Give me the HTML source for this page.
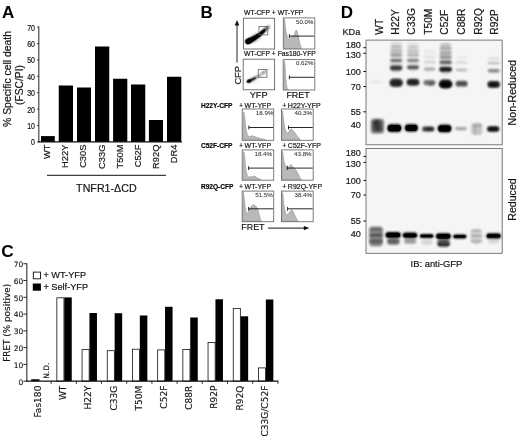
<!DOCTYPE html>
<html lang="en"><head><meta charset="utf-8"><title>Figure</title>
<style>
html,body{margin:0;padding:0;background:#fff;}
body{width:520px;height:440px;overflow:hidden;}
svg{display:block;}
.ls{font-family:"Liberation Sans",sans-serif;stroke:#222;stroke-width:0.2px;}
.dc{font-family:"DejaVu Sans",sans-serif;stroke:#222;stroke-width:0.15px;}
</style></head><body>
<svg width="520" height="440" viewBox="0 0 520 440">
<defs>
<filter id="b05" x="-50%" y="-50%" width="200%" height="200%"><feGaussianBlur stdDeviation="0.5"/></filter>
<filter id="b08" x="-50%" y="-50%" width="200%" height="200%"><feGaussianBlur stdDeviation="0.8"/></filter>
<filter id="b12" x="-50%" y="-50%" width="200%" height="200%"><feGaussianBlur stdDeviation="1.2"/></filter>
<filter id="b20" x="-50%" y="-50%" width="200%" height="200%"><feGaussianBlur stdDeviation="2"/></filter>
</defs>
<rect x="0" y="0" width="520" height="440" fill="#fff"/>
<g id="panelA">
<text class="ls" x="2" y="18.2" font-size="17" text-anchor="start" font-weight="bold" fill="#000" style="stroke:none">A</text>
<rect x="41.00" y="136.10" width="13.80" height="5.80" fill="#000"/>
<rect x="58.75" y="85.50" width="14.25" height="56.40" fill="#000"/>
<rect x="77.00" y="87.50" width="14.00" height="54.40" fill="#000"/>
<rect x="95.00" y="46.50" width="14.25" height="95.40" fill="#000"/>
<rect x="113.10" y="78.75" width="14.20" height="63.15" fill="#000"/>
<rect x="131.00" y="84.50" width="14.25" height="57.40" fill="#000"/>
<rect x="148.90" y="120.00" width="14.10" height="21.90" fill="#000"/>
<rect x="167.00" y="76.75" width="14.30" height="65.15" fill="#000"/>
<line x1="38.8" y1="26.6" x2="38.8" y2="142.4" stroke="#4a4a4a" stroke-width="1.2"/>
<line x1="38.199999999999996" y1="141.9" x2="182" y2="141.9" stroke="#111" stroke-width="1.1"/>
<line x1="37.199999999999996" y1="141.9" x2="38.8" y2="141.9" stroke="#111" stroke-width="0.9"/>
<text class="ls" x="35.0" y="145.4" font-size="8.2" text-anchor="end" fill="#111" textLength="3.9" lengthAdjust="spacingAndGlyphs">0</text>
<line x1="37.199999999999996" y1="125.5" x2="38.8" y2="125.5" stroke="#111" stroke-width="0.9"/>
<text class="ls" x="35.0" y="129.0" font-size="8.2" text-anchor="end" fill="#111" textLength="7.8" lengthAdjust="spacingAndGlyphs">10</text>
<line x1="37.199999999999996" y1="109.10000000000001" x2="38.8" y2="109.10000000000001" stroke="#111" stroke-width="0.9"/>
<text class="ls" x="35.0" y="112.60000000000001" font-size="8.2" text-anchor="end" fill="#111" textLength="7.8" lengthAdjust="spacingAndGlyphs">20</text>
<line x1="37.199999999999996" y1="92.70000000000002" x2="38.8" y2="92.70000000000002" stroke="#111" stroke-width="0.9"/>
<text class="ls" x="35.0" y="96.20000000000002" font-size="8.2" text-anchor="end" fill="#111" textLength="7.8" lengthAdjust="spacingAndGlyphs">30</text>
<line x1="37.199999999999996" y1="76.30000000000001" x2="38.8" y2="76.30000000000001" stroke="#111" stroke-width="0.9"/>
<text class="ls" x="35.0" y="79.80000000000001" font-size="8.2" text-anchor="end" fill="#111" textLength="7.8" lengthAdjust="spacingAndGlyphs">40</text>
<line x1="37.199999999999996" y1="59.900000000000006" x2="38.8" y2="59.900000000000006" stroke="#111" stroke-width="0.9"/>
<text class="ls" x="35.0" y="63.400000000000006" font-size="8.2" text-anchor="end" fill="#111" textLength="7.8" lengthAdjust="spacingAndGlyphs">50</text>
<line x1="37.199999999999996" y1="43.500000000000014" x2="38.8" y2="43.500000000000014" stroke="#111" stroke-width="0.9"/>
<text class="ls" x="35.0" y="47.000000000000014" font-size="8.2" text-anchor="end" fill="#111" textLength="7.8" lengthAdjust="spacingAndGlyphs">60</text>
<line x1="37.199999999999996" y1="27.10000000000001" x2="38.8" y2="27.10000000000001" stroke="#111" stroke-width="0.9"/>
<text class="ls" x="35.0" y="30.60000000000001" font-size="8.2" text-anchor="end" fill="#111" textLength="7.8" lengthAdjust="spacingAndGlyphs">70</text>
<text class="ls" x="11.2" y="79" font-size="10.4" text-anchor="middle" transform="rotate(-90 11.2 79)" fill="#111">% Specific cell death</text>
<text class="ls" x="23.3" y="85" font-size="10.3" text-anchor="middle" transform="rotate(-90 23.3 85)" fill="#111">(FSC/PI)</text>
<text class="ls" x="50.3" y="144.6" font-size="9.3" text-anchor="end" transform="rotate(-90 50.3 144.6)" fill="#111">WT</text>
<text class="ls" x="68.4" y="144.6" font-size="9.3" text-anchor="end" transform="rotate(-90 68.4 144.6)" fill="#111">H22Y</text>
<text class="ls" x="86.5" y="144.6" font-size="9.3" text-anchor="end" transform="rotate(-90 86.5 144.6)" fill="#111">C30S</text>
<text class="ls" x="104.6" y="144.6" font-size="9.3" text-anchor="end" transform="rotate(-90 104.6 144.6)" fill="#111">C33G</text>
<text class="ls" x="122.7" y="144.6" font-size="9.3" text-anchor="end" transform="rotate(-90 122.7 144.6)" fill="#111">T50M</text>
<text class="ls" x="140.8" y="144.6" font-size="9.3" text-anchor="end" transform="rotate(-90 140.8 144.6)" fill="#111">C52F</text>
<text class="ls" x="158.9" y="144.6" font-size="9.3" text-anchor="end" transform="rotate(-90 158.9 144.6)" fill="#111">R92Q</text>
<text class="ls" x="177.0" y="144.6" font-size="9.3" text-anchor="end" transform="rotate(-90 177.0 144.6)" fill="#111">DR4</text>
<line x1="47" y1="175.3" x2="166" y2="175.3" stroke="#111" stroke-width="1.0"/>
<text class="ls" x="106.4" y="191.7" font-size="10.7" text-anchor="middle" fill="#111">TNFR1-ΔCD</text>
</g>
<g id="panelB">
<text class="ls" x="200.6" y="18.4" font-size="17" text-anchor="start" font-weight="bold" fill="#000" style="stroke:none">B</text>
<text class="ls" x="244" y="15.2" font-size="6.8" text-anchor="start" fill="#111">WT-CFP + WT-YFP</text>
<text class="ls" x="244" y="56" font-size="6.8" text-anchor="start" fill="#111">WT-CFP + Fas180-YFP</text>
<rect x="243.40" y="18.20" width="31.20" height="30.80" fill="#fff"/>
<g clip-path="none">
<ellipse cx="248.8" cy="41.0" rx="4.0" ry="3.1" transform="rotate(-25 248.8 41.0)" fill="#000" opacity="1" filter="url(#b05)"/>
<ellipse cx="253" cy="38.8" rx="5.5" ry="2.6" transform="rotate(-29 253 38.8)" fill="#000" opacity="1" filter="url(#b05)"/>
<ellipse cx="257.5" cy="36.0" rx="5.5" ry="2.2" transform="rotate(-33 257.5 36.0)" fill="#000" opacity="1" filter="url(#b05)"/>
<ellipse cx="261.5" cy="32.8" rx="5" ry="1.9" transform="rotate(-40 261.5 32.8)" fill="#000" opacity="0.95" filter="url(#b05)"/>
<ellipse cx="265" cy="29.8" rx="4.5" ry="1.5" transform="rotate(-40 265 29.8)" fill="#000" opacity="0.8" filter="url(#b08)"/>
<ellipse cx="268" cy="27.2" rx="3" ry="1.0" transform="rotate(-40 268 27.2)" fill="#000" opacity="0.4" filter="url(#b08)"/>
<ellipse cx="254" cy="38.2" rx="10" ry="3.8" transform="rotate(-31 254 38.2)" fill="#000" opacity="0.25" filter="url(#b12)"/>
</g>
<rect x="259.00" y="26.40" width="8.80" height="8.50" fill="none" stroke="#666" stroke-width="0.8"/>
<rect x="243.40" y="18.20" width="31.20" height="30.80" fill="none" stroke="#666" stroke-width="0.9"/>
<rect x="243.20" y="59.20" width="31.40" height="30.60" fill="#fff"/>
<g clip-path="none">
<ellipse cx="249.2" cy="81.0" rx="2.8" ry="1.7" transform="rotate(-22 249.2 81.0)" fill="#000" opacity="1" filter="url(#b05)"/>
<ellipse cx="252.5" cy="79.4" rx="3.6" ry="1.1" transform="rotate(-27 252.5 79.4)" fill="#000" opacity="0.8" filter="url(#b05)"/>
<ellipse cx="256.5" cy="77.2" rx="4.0" ry="0.9" transform="rotate(-30 256.5 77.2)" fill="#000" opacity="0.55" filter="url(#b08)"/>
<ellipse cx="261" cy="74.3" rx="3.5" ry="0.9" transform="rotate(-35 261 74.3)" fill="#000" opacity="0.45" filter="url(#b08)"/>
<ellipse cx="264" cy="72.3" rx="2.2" ry="1.2" transform="rotate(-35 264 72.3)" fill="#000" opacity="0.5" filter="url(#b08)"/>
<ellipse cx="267.5" cy="69.6" rx="3" ry="0.7" transform="rotate(-35 267.5 69.6)" fill="#000" opacity="0.25" filter="url(#b08)"/>
<ellipse cx="252" cy="79.8" rx="6.5" ry="2.6" transform="rotate(-27 252 79.8)" fill="#000" opacity="0.2" filter="url(#b12)"/>
</g>
<rect x="258.20" y="69.50" width="8.70" height="7.80" fill="none" stroke="#666" stroke-width="0.8"/>
<rect x="243.20" y="59.20" width="31.40" height="30.60" fill="none" stroke="#666" stroke-width="0.9"/>
<rect x="283.30" y="17.90" width="31.50" height="31.10" fill="#fff"/>
<path d="M283.80,48.50 L283.80,48.50 L284.08,27.78 L284.51,18.90 L285.12,24.82 L285.97,30.74 L287.30,36.66 L289.29,40.21 L290.20,38.44 L291.43,36.66 L293.56,36.07 L294.78,33.70 L296.00,30.15 L296.92,30.74 L298.13,35.18 L299.36,41.10 L300.57,46.13 L301.80,48.50 L301.80,48.50 Z" fill="#b9b9b9" stroke="#8c8c8c" stroke-width="0.55" stroke-linejoin="round"/>
<rect x="283.30" y="17.90" width="31.50" height="31.10" fill="none" stroke="#6e6e6e" stroke-width="0.9"/>
<line x1="289.4" y1="36.1" x2="314.3" y2="36.1" stroke="#111" stroke-width="0.9"/>
<line x1="289.4" y1="34.2" x2="289.4" y2="38.0" stroke="#111" stroke-width="0.9"/>
<text class="ls" x="313.5" y="23.5" font-size="6.2" text-anchor="end" fill="#333" style="stroke:#444;stroke-width:0.08px">50.0%</text>
<rect x="283.20" y="59.60" width="31.60" height="30.40" fill="#fff"/>
<path d="M283.70,89.50 L283.70,89.50 L283.92,72.16 L284.41,60.89 L284.89,63.49 L285.58,75.05 L286.35,84.30 L287.21,88.34 L288.37,89.50 L288.60,89.50 Z" fill="#b9b9b9" stroke="#8c8c8c" stroke-width="0.55" stroke-linejoin="round"/>
<rect x="283.20" y="59.60" width="31.60" height="30.40" fill="none" stroke="#6e6e6e" stroke-width="0.9"/>
<line x1="289.4" y1="77.3" x2="314.3" y2="77.3" stroke="#111" stroke-width="0.9"/>
<line x1="289.4" y1="75.39999999999999" x2="289.4" y2="79.2" stroke="#111" stroke-width="0.9"/>
<text class="ls" x="313.5" y="65.2" font-size="6.2" text-anchor="end" fill="#333" style="stroke:#444;stroke-width:0.08px">0.62%</text>
<text class="ls" x="258.6" y="98.3" font-size="9.2" text-anchor="middle" fill="#111">YFP</text>
<text class="ls" x="298" y="98.3" font-size="8.9" text-anchor="middle" fill="#111">FRET</text>
<text class="ls" x="240.6" y="75.3" font-size="9.3" text-anchor="middle" transform="rotate(-90 240.6 75.3)" fill="#111">CFP</text>
<line x1="237.0" y1="62.7" x2="237.0" y2="24.5" stroke="#111" stroke-width="0.9"/>
<path d="M237.0,19.9 L234.7,25.5 L239.3,25.5 Z" fill="#111"/>
<text class="ls" x="200.9" y="107.6" font-size="6.6" text-anchor="start" font-weight="bold" fill="#000" style="stroke:#000;stroke-width:0.15px">H22Y-CFP</text>
<text class="ls" x="238.9" y="107.6" font-size="7.0" text-anchor="start" fill="#111" word-spacing="-0.3">+ WT-YFP</text>
<text class="ls" x="282.3" y="107.6" font-size="7.0" text-anchor="start" fill="#111" word-spacing="-0.5">+ H22Y-YFP</text>
<rect x="242.20" y="109.00" width="31.50" height="31.30" fill="#fff"/>
<path d="M242.70,139.80 L242.70,139.80 L243.08,121.92 L243.76,111.79 L244.43,114.47 L245.18,121.92 L246.20,129.97 L247.35,134.73 L248.80,136.82 L250.63,136.22 L252.16,135.78 L254.29,136.52 L256.73,137.27 L259.47,138.16 L262.22,139.06 L265.57,139.80 L265.57,139.80 Z" fill="#b9b9b9" stroke="#8c8c8c" stroke-width="0.55" stroke-linejoin="round"/>
<rect x="242.20" y="109.00" width="31.50" height="31.30" fill="none" stroke="#6e6e6e" stroke-width="0.9"/>
<line x1="248.9" y1="127.5" x2="273.2" y2="127.5" stroke="#111" stroke-width="0.9"/>
<line x1="248.9" y1="125.6" x2="248.9" y2="129.4" stroke="#111" stroke-width="0.9"/>
<text class="ls" x="273.4" y="114.6" font-size="6.2" text-anchor="end" fill="#333" style="stroke:#444;stroke-width:0.08px">18.9%</text>
<rect x="281.50" y="109.00" width="31.70" height="31.30" fill="#fff"/>
<path d="M282.00,139.80 L282.00,139.80 L282.28,121.92 L282.60,110.89 L283.07,114.47 L283.88,121.92 L284.83,127.88 L286.09,131.75 L287.31,133.24 L288.45,132.05 L289.98,129.97 L291.21,128.77 L292.44,129.97 L294.28,132.05 L296.12,134.44 L297.96,136.82 L299.50,138.91 L300.42,139.80 L300.42,139.80 Z" fill="#b9b9b9" stroke="#8c8c8c" stroke-width="0.55" stroke-linejoin="round"/>
<rect x="281.50" y="109.00" width="31.70" height="31.30" fill="none" stroke="#6e6e6e" stroke-width="0.9"/>
<line x1="288.5" y1="127.5" x2="312.7" y2="127.5" stroke="#111" stroke-width="0.9"/>
<line x1="288.5" y1="125.6" x2="288.5" y2="129.4" stroke="#111" stroke-width="0.9"/>
<text class="ls" x="312.0" y="114.6" font-size="6.2" text-anchor="end" fill="#333" style="stroke:#444;stroke-width:0.08px">40.3%</text>
<text class="ls" x="200.9" y="148.4" font-size="6.6" text-anchor="start" font-weight="bold" fill="#000" style="stroke:#000;stroke-width:0.15px">C52F-CFP</text>
<text class="ls" x="238.9" y="148.4" font-size="7.0" text-anchor="start" fill="#111" word-spacing="-0.3">+ WT-YFP</text>
<text class="ls" x="282.3" y="148.4" font-size="7.0" text-anchor="start" fill="#111" word-spacing="-0.5">+ C52F-YFP</text>
<rect x="242.20" y="149.90" width="31.50" height="30.30" fill="#fff"/>
<path d="M242.70,179.70 L242.70,179.70 L243.08,162.42 L243.64,151.48 L244.43,153.78 L245.18,162.42 L246.20,171.06 L247.35,175.67 L248.80,177.11 L250.94,176.82 L253.38,176.24 L255.20,176.53 L257.03,177.68 L258.87,178.84 L261.00,179.70 L261.00,179.70 Z" fill="#b9b9b9" stroke="#8c8c8c" stroke-width="0.55" stroke-linejoin="round"/>
<rect x="242.20" y="149.90" width="31.50" height="30.30" fill="none" stroke="#6e6e6e" stroke-width="0.9"/>
<line x1="248.6" y1="168.1" x2="273.2" y2="168.1" stroke="#111" stroke-width="0.9"/>
<line x1="248.6" y1="166.2" x2="248.6" y2="170.0" stroke="#111" stroke-width="0.9"/>
<text class="ls" x="272.0" y="155.5" font-size="6.2" text-anchor="end" fill="#333" style="stroke:#444;stroke-width:0.08px">18.4%</text>
<rect x="281.50" y="149.90" width="31.70" height="30.30" fill="#fff"/>
<path d="M282.00,179.70 L282.00,179.70 L282.28,162.42 L282.60,151.48 L283.07,154.36 L283.88,160.69 L284.83,164.44 L286.28,166.74 L287.53,165.88 L288.75,167.03 L289.98,166.45 L291.21,164.15 L292.13,166.74 L293.67,167.60 L295.20,169.33 L296.43,170.48 L297.96,173.36 L299.50,176.82 L300.73,178.84 L301.65,179.70 L301.65,179.70 Z" fill="#b9b9b9" stroke="#8c8c8c" stroke-width="0.55" stroke-linejoin="round"/>
<rect x="281.50" y="149.90" width="31.70" height="30.30" fill="none" stroke="#6e6e6e" stroke-width="0.9"/>
<line x1="287.3" y1="168.1" x2="312.7" y2="168.1" stroke="#111" stroke-width="0.9"/>
<line x1="287.3" y1="166.2" x2="287.3" y2="170.0" stroke="#111" stroke-width="0.9"/>
<text class="ls" x="311.59999999999997" y="155.5" font-size="6.2" text-anchor="end" fill="#333" style="stroke:#444;stroke-width:0.08px">43.8%</text>
<text class="ls" x="200.9" y="188.9" font-size="6.6" text-anchor="start" font-weight="bold" fill="#000" style="stroke:#000;stroke-width:0.15px">R92Q-CFP</text>
<text class="ls" x="238.9" y="188.9" font-size="7.0" text-anchor="start" fill="#111" word-spacing="-0.3">+ WT-YFP</text>
<text class="ls" x="282.3" y="188.9" font-size="7.0" text-anchor="start" fill="#111" word-spacing="-0.5">+ R92Q-YFP</text>
<rect x="242.20" y="191.10" width="31.50" height="30.60" fill="#fff"/>
<path d="M242.70,221.20 L242.70,221.20 L242.98,203.74 L243.41,192.39 L244.02,196.47 L244.87,205.19 L246.02,211.31 L247.56,213.63 L248.80,211.89 L250.32,207.81 L251.85,205.78 L253.38,204.32 L254.90,205.78 L256.43,206.65 L257.95,209.56 L259.17,214.80 L260.39,219.45 L261.31,221.20 L261.31,221.20 Z" fill="#b9b9b9" stroke="#8c8c8c" stroke-width="0.55" stroke-linejoin="round"/>
<rect x="242.20" y="191.10" width="31.50" height="30.60" fill="none" stroke="#6e6e6e" stroke-width="0.9"/>
<line x1="248.6" y1="208.8" x2="273.2" y2="208.8" stroke="#111" stroke-width="0.9"/>
<line x1="248.6" y1="206.9" x2="248.6" y2="210.70000000000002" stroke="#111" stroke-width="0.9"/>
<text class="ls" x="272.7" y="196.7" font-size="6.2" text-anchor="end" fill="#333" style="stroke:#444;stroke-width:0.08px">51.5%</text>
<rect x="281.50" y="191.10" width="31.70" height="30.60" fill="#fff"/>
<path d="M282.00,221.20 L282.00,221.20 L282.28,203.74 L282.60,192.68 L283.07,196.47 L283.88,204.32 L284.83,210.14 L286.09,213.92 L287.31,215.09 L288.75,213.34 L290.60,210.72 L291.82,209.56 L293.05,211.60 L294.59,214.80 L296.12,218.00 L297.35,220.33 L298.27,221.20 L298.27,221.20 Z" fill="#b9b9b9" stroke="#8c8c8c" stroke-width="0.55" stroke-linejoin="round"/>
<rect x="281.50" y="191.10" width="31.70" height="30.60" fill="none" stroke="#6e6e6e" stroke-width="0.9"/>
<line x1="287.6" y1="208.8" x2="312.7" y2="208.8" stroke="#111" stroke-width="0.9"/>
<line x1="287.6" y1="206.9" x2="287.6" y2="210.70000000000002" stroke="#111" stroke-width="0.9"/>
<text class="ls" x="312.0" y="196.7" font-size="6.2" text-anchor="end" fill="#333" style="stroke:#444;stroke-width:0.08px">38.4%</text>
<text class="ls" x="241.3" y="229.9" font-size="8.9" text-anchor="start" fill="#111">FRET</text>
<line x1="268" y1="228.1" x2="305" y2="228.1" stroke="#111" stroke-width="1.0"/>
<path d="M309.3,228.1 L303.8,225.9 L303.8,230.3 Z" fill="#111"/>
</g>
<g id="panelC">
<text class="ls" x="1.3" y="256.7" font-size="17.3" text-anchor="start" font-weight="bold" fill="#000" style="stroke:none">C</text>
<rect x="33.30" y="272.10" width="7.20" height="6.70" fill="#fff" stroke="#111" stroke-width="0.9"/>
<rect x="32.80" y="283.50" width="8.10" height="7.20" fill="#000"/>
<text class="ls" x="43.4" y="277.9" font-size="9.2" text-anchor="start" fill="#111">+ WT-YFP</text>
<text class="ls" x="43.4" y="289.9" font-size="9.2" text-anchor="start" fill="#111">+ Self-YFP</text>
<text class="dc" x="41.1" y="385.6" font-size="9.05" text-anchor="end" transform="rotate(-90 41.1 385.6)" fill="#111">Fas180</text>
<rect x="56.85" y="297.80" width="7.10" height="83.40" fill="#fff" stroke="#111" stroke-width="0.8"/>
<rect x="64.25" y="297.40" width="7.50" height="83.80" fill="#000"/>
<text class="dc" x="66.3" y="385.6" font-size="9.05" text-anchor="end" transform="rotate(-90 66.3 385.6)" fill="#111">WT</text>
<rect x="82.05" y="349.60" width="7.10" height="31.60" fill="#fff" stroke="#111" stroke-width="0.8"/>
<rect x="89.45" y="313.00" width="7.50" height="68.20" fill="#000"/>
<text class="dc" x="91.5" y="385.6" font-size="9.05" text-anchor="end" transform="rotate(-90 91.5 385.6)" fill="#111">H22Y</text>
<rect x="107.25" y="350.70" width="7.10" height="30.50" fill="#fff" stroke="#111" stroke-width="0.8"/>
<rect x="114.65" y="313.20" width="7.50" height="68.00" fill="#000"/>
<text class="dc" x="116.69999999999999" y="385.6" font-size="9.05" text-anchor="end" transform="rotate(-90 116.69999999999999 385.6)" fill="#111">C33G</text>
<rect x="132.45" y="349.20" width="7.10" height="32.00" fill="#fff" stroke="#111" stroke-width="0.8"/>
<rect x="139.85" y="315.50" width="7.50" height="65.70" fill="#000"/>
<text class="dc" x="141.89999999999998" y="385.6" font-size="9.05" text-anchor="end" transform="rotate(-90 141.89999999999998 385.6)" fill="#111">T50M</text>
<rect x="157.65" y="349.90" width="7.10" height="31.30" fill="#fff" stroke="#111" stroke-width="0.8"/>
<rect x="165.05" y="306.80" width="7.50" height="74.40" fill="#000"/>
<text class="dc" x="167.1" y="385.6" font-size="9.05" text-anchor="end" transform="rotate(-90 167.1 385.6)" fill="#111">C52F</text>
<rect x="182.85" y="349.40" width="7.10" height="31.80" fill="#fff" stroke="#111" stroke-width="0.8"/>
<rect x="190.25" y="317.50" width="7.50" height="63.70" fill="#000"/>
<text class="dc" x="192.29999999999998" y="385.6" font-size="9.05" text-anchor="end" transform="rotate(-90 192.29999999999998 385.6)" fill="#111">C88R</text>
<rect x="208.05" y="342.40" width="7.10" height="38.80" fill="#fff" stroke="#111" stroke-width="0.8"/>
<rect x="215.45" y="299.30" width="7.50" height="81.90" fill="#000"/>
<text class="dc" x="217.5" y="385.6" font-size="9.05" text-anchor="end" transform="rotate(-90 217.5 385.6)" fill="#111">R92P</text>
<rect x="233.25" y="308.40" width="7.10" height="72.80" fill="#fff" stroke="#111" stroke-width="0.8"/>
<rect x="240.65" y="316.30" width="7.50" height="64.90" fill="#000"/>
<text class="dc" x="242.7" y="385.6" font-size="9.05" text-anchor="end" transform="rotate(-90 242.7 385.6)" fill="#111">R92Q</text>
<rect x="258.45" y="367.90" width="7.10" height="13.30" fill="#fff" stroke="#111" stroke-width="0.8"/>
<rect x="265.85" y="299.50" width="7.50" height="81.70" fill="#000"/>
<text class="dc" x="267.90000000000003" y="385.6" font-size="9.05" text-anchor="end" transform="rotate(-90 267.90000000000003 385.6)" fill="#111">C33G/C52F</text>
<rect x="31.20" y="379.20" width="8.30" height="2.00" fill="#111"/>
<text class="dc" x="49.0" y="378.8" font-size="7.5" text-anchor="start" transform="rotate(-90 49.0 378.8)" fill="#111">N.D.</text>
<line x1="26.8" y1="263.34000000000003" x2="26.8" y2="381.8" stroke="#505050" stroke-width="1.3"/>
<line x1="26.2" y1="381.2" x2="278.3" y2="381.2" stroke="#111" stroke-width="1.2"/>
<line x1="23.400000000000002" y1="381.2" x2="26.8" y2="381.2" stroke="#111" stroke-width="0.9"/>
<text class="dc" x="23.4" y="384.5" font-size="7.5" text-anchor="end" fill="#111">0</text>
<line x1="23.400000000000002" y1="364.41999999999996" x2="26.8" y2="364.41999999999996" stroke="#111" stroke-width="0.9"/>
<text class="dc" x="23.4" y="367.71999999999997" font-size="7.5" text-anchor="end" fill="#111">10</text>
<line x1="23.400000000000002" y1="347.64" x2="26.8" y2="347.64" stroke="#111" stroke-width="0.9"/>
<text class="dc" x="23.4" y="350.94" font-size="7.5" text-anchor="end" fill="#111">20</text>
<line x1="23.400000000000002" y1="330.86" x2="26.8" y2="330.86" stroke="#111" stroke-width="0.9"/>
<text class="dc" x="23.4" y="334.16" font-size="7.5" text-anchor="end" fill="#111">30</text>
<line x1="23.400000000000002" y1="314.08" x2="26.8" y2="314.08" stroke="#111" stroke-width="0.9"/>
<text class="dc" x="23.4" y="317.38" font-size="7.5" text-anchor="end" fill="#111">40</text>
<line x1="23.400000000000002" y1="297.3" x2="26.8" y2="297.3" stroke="#111" stroke-width="0.9"/>
<text class="dc" x="23.4" y="300.6" font-size="7.5" text-anchor="end" fill="#111">50</text>
<line x1="23.400000000000002" y1="280.52" x2="26.8" y2="280.52" stroke="#111" stroke-width="0.9"/>
<text class="dc" x="23.4" y="283.82" font-size="7.5" text-anchor="end" fill="#111">60</text>
<line x1="23.400000000000002" y1="263.74" x2="26.8" y2="263.74" stroke="#111" stroke-width="0.9"/>
<text class="dc" x="23.4" y="267.04" font-size="7.5" text-anchor="end" fill="#111">70</text>
<line x1="51.099999999999994" y1="381.2" x2="51.099999999999994" y2="383.8" stroke="#111" stroke-width="0.9"/>
<line x1="76.3" y1="381.2" x2="76.3" y2="383.8" stroke="#111" stroke-width="0.9"/>
<line x1="101.5" y1="381.2" x2="101.5" y2="383.8" stroke="#111" stroke-width="0.9"/>
<line x1="126.69999999999999" y1="381.2" x2="126.69999999999999" y2="383.8" stroke="#111" stroke-width="0.9"/>
<line x1="151.9" y1="381.2" x2="151.9" y2="383.8" stroke="#111" stroke-width="0.9"/>
<line x1="177.1" y1="381.2" x2="177.1" y2="383.8" stroke="#111" stroke-width="0.9"/>
<line x1="202.3" y1="381.2" x2="202.3" y2="383.8" stroke="#111" stroke-width="0.9"/>
<line x1="227.5" y1="381.2" x2="227.5" y2="383.8" stroke="#111" stroke-width="0.9"/>
<line x1="252.7" y1="381.2" x2="252.7" y2="383.8" stroke="#111" stroke-width="0.9"/>
<line x1="277.9" y1="381.2" x2="277.9" y2="383.8" stroke="#111" stroke-width="0.9"/>
<text class="dc" x="10.2" y="322.8" font-size="8.9" text-anchor="middle" transform="rotate(-90 10.2 322.8)" fill="#111">FRET (% positive)</text>
</g>
<g id="panelD">
<text class="ls" x="340.8" y="18.4" font-size="17" text-anchor="start" font-weight="bold" fill="#000" style="stroke:none">D</text>
<text class="ls" x="342.4" y="34.6" font-size="9.2" text-anchor="start" fill="#111">KDa</text>
<text class="ls" x="382.6" y="34.7" font-size="10.2" text-anchor="start" transform="rotate(-90 382.6 34.7)" fill="#111">WT</text>
<text class="ls" x="398.90000000000003" y="34.7" font-size="10.2" text-anchor="start" transform="rotate(-90 398.90000000000003 34.7)" fill="#111">H22Y</text>
<text class="ls" x="415.3" y="34.7" font-size="10.2" text-anchor="start" transform="rotate(-90 415.3 34.7)" fill="#111">C33G</text>
<text class="ls" x="431.8" y="34.7" font-size="10.2" text-anchor="start" transform="rotate(-90 431.8 34.7)" fill="#111">T50M</text>
<text class="ls" x="448.3" y="34.7" font-size="10.2" text-anchor="start" transform="rotate(-90 448.3 34.7)" fill="#111">C52F</text>
<text class="ls" x="464.8" y="34.7" font-size="10.2" text-anchor="start" transform="rotate(-90 464.8 34.7)" fill="#111">C88R</text>
<text class="ls" x="481.70000000000005" y="34.7" font-size="10.2" text-anchor="start" transform="rotate(-90 481.70000000000005 34.7)" fill="#111">R92Q</text>
<text class="ls" x="498.0" y="34.7" font-size="10.2" text-anchor="start" transform="rotate(-90 498.0 34.7)" fill="#111">R92P</text>
<clipPath id="clipT"><rect x="366.0" y="40.1" width="136.2" height="104.70000000000002"/></clipPath>
<clipPath id="clipB"><rect x="366.0" y="148.4" width="136.2" height="104.9"/></clipPath>
<rect x="366.00" y="40.10" width="136.20" height="104.70" fill="#f5f5f5"/>
<rect x="366.00" y="148.40" width="136.20" height="104.90" fill="#f5f5f5"/>
<g clip-path="url(#clipT)">
<rect x="370.8" y="118.8" width="13.2" height="14.6" rx="3.0" fill="#000" opacity="0.5" filter="url(#b12)"/>
<rect x="372.8" y="120.2" width="9.0" height="11.0" rx="3.0" fill="#000" opacity="0.4" filter="url(#b12)"/>
<rect x="375.8" y="119.5" width="2.5" height="11.0" rx="1.2" fill="#000" opacity="0.35" filter="url(#b08)"/>
<rect x="373.5" y="121.0" width="3.0" height="4.0" rx="1.5" fill="#000" opacity="0.2" filter="url(#b08)"/>
<rect x="379.0" y="127.0" width="3.0" height="4.0" rx="1.5" fill="#000" opacity="0.15" filter="url(#b08)"/>
<rect x="387.2" y="124.1" width="14.4" height="8.2" rx="4.1" fill="#000" opacity="0.9" filter="url(#b12)"/>
<rect x="387.9" y="125.1" width="13.0" height="6.2" rx="3.1" fill="#000" opacity="1" filter="url(#b05)"/>
<rect x="404.7" y="124.1" width="13.4" height="7.6" rx="3.8" fill="#000" opacity="0.9" filter="url(#b12)"/>
<rect x="405.4" y="125.1" width="12.0" height="5.6" rx="2.8" fill="#000" opacity="1" filter="url(#b05)"/>
<rect x="422.0" y="126.5" width="12.4" height="5.0" rx="2.5" fill="#000" opacity="0.7" filter="url(#b12)"/>
<rect x="425.0" y="127.5" width="8.0" height="3.0" rx="1.5" fill="#000" opacity="0.5" filter="url(#b08)"/>
<rect x="437.6" y="124.4" width="14.0" height="8.2" rx="4.1" fill="#000" opacity="0.9" filter="url(#b12)"/>
<rect x="438.3" y="125.4" width="12.6" height="6.2" rx="3.1" fill="#000" opacity="1" filter="url(#b05)"/>
<rect x="455.2" y="127.0" width="11.5" height="3.2" rx="1.6" fill="#000" opacity="0.33" filter="url(#b08)"/>
<rect x="471.2" y="123.0" width="11.0" height="12.0" rx="3.0" fill="#000" opacity="0.2" filter="url(#b12)"/>
<rect x="473.0" y="124.7" width="9.0" height="1.6" rx="0.8" fill="#000" opacity="0.22" filter="url(#b08)"/>
<rect x="474.0" y="125.5" width="2.0" height="9.0" rx="1.0" fill="#000" opacity="0.12" filter="url(#b08)"/>
<rect x="487.0" y="126.2" width="12.4" height="5.6" rx="2.8" fill="#000" opacity="0.8" filter="url(#b12)"/>
<rect x="488.2" y="127.3" width="10.0" height="3.4" rx="1.7" fill="#000" opacity="0.7" filter="url(#b08)"/>
<rect x="371.0" y="80.5" width="10.0" height="2.5" rx="1.2" fill="#000" opacity="0.07" filter="url(#b12)"/>
<rect x="389.5" y="78.5" width="13.4" height="8.4" rx="4.2" fill="#000" opacity="0.78" filter="url(#b12)"/>
<rect x="390.7" y="80.8" width="11.0" height="4.5" rx="2.2" fill="#000" opacity="0.4" filter="url(#b08)"/>
<rect x="406.6" y="78.8" width="12.8" height="7.0" rx="3.5" fill="#000" opacity="0.78" filter="url(#b12)"/>
<rect x="407.8" y="80.2" width="10.5" height="3.6" rx="1.8" fill="#000" opacity="0.45" filter="url(#b08)"/>
<rect x="423.5" y="79.9" width="12.0" height="5.4" rx="2.7" fill="#000" opacity="0.55" filter="url(#b12)"/>
<rect x="428.5" y="83.0" width="5.0" height="3.0" rx="1.5" fill="#000" opacity="0.3" filter="url(#b08)"/>
<rect x="438.9" y="79.6" width="13.4" height="8.8" rx="4.4" fill="#000" opacity="0.9" filter="url(#b12)"/>
<rect x="439.9" y="82.0" width="11.5" height="5.0" rx="2.5" fill="#000" opacity="0.8" filter="url(#b08)"/>
<rect x="455.6" y="80.8" width="12.0" height="5.8" rx="2.9" fill="#000" opacity="0.68" filter="url(#b12)"/>
<rect x="487.5" y="81.1" width="12.4" height="6.6" rx="3.3" fill="#000" opacity="0.85" filter="url(#b12)"/>
<rect x="488.7" y="83.1" width="10.0" height="3.4" rx="1.7" fill="#000" opacity="0.5" filter="url(#b08)"/>
<rect x="389.9" y="65.6" width="12.5" height="4.8" rx="2.4" fill="#000" opacity="0.74" filter="url(#b12)"/>
<rect x="407.0" y="65.4" width="12.0" height="3.8" rx="1.9" fill="#000" opacity="0.64" filter="url(#b12)"/>
<rect x="423.8" y="67.5" width="11.5" height="3.2" rx="1.6" fill="#000" opacity="0.3" filter="url(#b12)"/>
<rect x="439.3" y="67.1" width="12.6" height="4.6" rx="2.3" fill="#000" opacity="0.82" filter="url(#b12)"/>
<rect x="440.4" y="68.2" width="10.5" height="2.4" rx="1.2" fill="#000" opacity="0.4" filter="url(#b08)"/>
<rect x="455.9" y="68.7" width="11.5" height="2.6" rx="1.3" fill="#000" opacity="0.25" filter="url(#b12)"/>
<rect x="487.7" y="68.9" width="12.0" height="3.6" rx="1.8" fill="#000" opacity="0.45" filter="url(#b12)"/>
<rect x="390.2" y="59.0" width="12.0" height="3.0" rx="1.5" fill="#000" opacity="0.5" filter="url(#b12)"/>
<rect x="390.2" y="53.6" width="12.0" height="2.8" rx="1.4" fill="#000" opacity="0.32" filter="url(#b12)"/>
<rect x="390.2" y="49.7" width="12.0" height="2.6" rx="1.3" fill="#000" opacity="0.24" filter="url(#b12)"/>
<rect x="390.2" y="45.5" width="12.0" height="2.8" rx="1.4" fill="#000" opacity="0.18" filter="url(#b12)"/>
<rect x="390.2" y="41.5" width="12.0" height="3.0" rx="1.5" fill="#000" opacity="0.08" filter="url(#b12)"/>
<rect x="407.0" y="59.1" width="12.0" height="2.8" rx="1.4" fill="#000" opacity="0.42" filter="url(#b12)"/>
<rect x="407.0" y="53.7" width="12.0" height="2.6" rx="1.3" fill="#000" opacity="0.26" filter="url(#b12)"/>
<rect x="407.0" y="49.7" width="12.0" height="2.6" rx="1.3" fill="#000" opacity="0.18" filter="url(#b12)"/>
<rect x="407.0" y="45.5" width="12.0" height="2.8" rx="1.4" fill="#000" opacity="0.12" filter="url(#b12)"/>
<rect x="407.0" y="41.5" width="12.0" height="3.0" rx="1.5" fill="#000" opacity="0.05" filter="url(#b12)"/>
<rect x="423.5" y="60.5" width="12.0" height="3.0" rx="1.5" fill="#000" opacity="0.13" filter="url(#b12)"/>
<rect x="423.5" y="55.5" width="12.0" height="3.0" rx="1.5" fill="#000" opacity="0.08" filter="url(#b12)"/>
<rect x="423.5" y="50.5" width="12.0" height="3.0" rx="1.5" fill="#000" opacity="0.05" filter="url(#b12)"/>
<rect x="439.6" y="60.8" width="12.0" height="3.0" rx="1.5" fill="#000" opacity="0.62" filter="url(#b12)"/>
<rect x="439.6" y="55.7" width="12.0" height="2.8" rx="1.4" fill="#000" opacity="0.36" filter="url(#b12)"/>
<rect x="439.6" y="51.6" width="12.0" height="2.8" rx="1.4" fill="#000" opacity="0.26" filter="url(#b12)"/>
<rect x="439.6" y="46.7" width="12.0" height="3.0" rx="1.5" fill="#000" opacity="0.22" filter="url(#b12)"/>
<rect x="439.6" y="43.0" width="12.0" height="3.0" rx="1.5" fill="#000" opacity="0.12" filter="url(#b12)"/>
<rect x="455.6" y="61.2" width="12.0" height="2.6" rx="1.3" fill="#000" opacity="0.12" filter="url(#b12)"/>
<rect x="455.6" y="56.2" width="12.0" height="2.6" rx="1.3" fill="#000" opacity="0.05" filter="url(#b12)"/>
<rect x="487.7" y="61.8" width="12.0" height="2.8" rx="1.4" fill="#000" opacity="0.2" filter="url(#b12)"/>
<rect x="487.7" y="57.1" width="12.0" height="2.8" rx="1.4" fill="#000" opacity="0.08" filter="url(#b12)"/>
<rect x="390.7" y="43.0" width="11.0" height="30.0" rx="5.5" fill="#000" opacity="0.09" filter="url(#b12)"/>
<rect x="407.8" y="44.0" width="10.5" height="28.0" rx="5.2" fill="#000" opacity="0.07" filter="url(#b12)"/>
<rect x="439.9" y="43.0" width="11.5" height="32.0" rx="5.8" fill="#000" opacity="0.12" filter="url(#b12)"/>
</g>
<g clip-path="url(#clipB)">
<rect x="369.1" y="226.6" width="13.8" height="19.5" rx="3.5" fill="#000" opacity="0.42" filter="url(#b12)"/>
<rect x="369.8" y="227.7" width="12.5" height="3.2" rx="1.6" fill="#000" opacity="0.28" filter="url(#b08)"/>
<rect x="369.6" y="233.5" width="12.8" height="3.4" rx="1.7" fill="#000" opacity="0.4" filter="url(#b08)"/>
<rect x="369.6" y="239.4" width="12.8" height="3.6" rx="1.8" fill="#000" opacity="0.38" filter="url(#b08)"/>
<rect x="370.5" y="244.2" width="11.0" height="2.2" rx="1.1" fill="#000" opacity="0.15" filter="url(#b08)"/>
<rect x="385.4" y="232.0" width="15.4" height="6.0" rx="3.0" fill="#000" opacity="1" filter="url(#b08)"/>
<rect x="386.1" y="232.8" width="14.0" height="4.4" rx="2.2" fill="#000" opacity="1" filter="url(#b05)"/>
<rect x="387.1" y="238.2" width="12.5" height="6.5" rx="3.2" fill="#000" opacity="0.55" filter="url(#b12)"/>
<rect x="387.4" y="240.0" width="12.0" height="2.0" rx="1.0" fill="#000" opacity="0.2" filter="url(#b08)"/>
<rect x="402.7" y="232.6" width="14.6" height="5.4" rx="2.7" fill="#000" opacity="1" filter="url(#b08)"/>
<rect x="403.4" y="233.4" width="13.2" height="3.8" rx="1.9" fill="#000" opacity="1" filter="url(#b05)"/>
<rect x="404.2" y="238.2" width="12.0" height="5.5" rx="2.8" fill="#000" opacity="0.36" filter="url(#b12)"/>
<rect x="419.8" y="234.1" width="13.8" height="3.8" rx="1.9" fill="#000" opacity="1" filter="url(#b08)"/>
<rect x="420.4" y="234.8" width="12.5" height="2.4" rx="1.2" fill="#000" opacity="0.9" filter="url(#b05)"/>
<rect x="421.5" y="239.5" width="11.0" height="5.0" rx="2.5" fill="#000" opacity="0.13" filter="url(#b12)"/>
<rect x="435.9" y="233.2" width="15.0" height="6.0" rx="3.0" fill="#000" opacity="1" filter="url(#b08)"/>
<rect x="436.6" y="234.0" width="13.6" height="4.4" rx="2.2" fill="#000" opacity="1" filter="url(#b05)"/>
<rect x="437.2" y="239.5" width="12.8" height="7.4" rx="3.7" fill="#000" opacity="0.7" filter="url(#b08)"/>
<rect x="437.6" y="243.6" width="12.0" height="2.0" rx="1.0" fill="#000" opacity="0.3" filter="url(#b05)"/>
<rect x="453.1" y="234.5" width="13.4" height="4.0" rx="2.0" fill="#000" opacity="1" filter="url(#b08)"/>
<rect x="453.8" y="235.3" width="12.0" height="2.4" rx="1.2" fill="#000" opacity="0.9" filter="url(#b05)"/>
<rect x="470.6" y="228.5" width="11.5" height="16.0" rx="5.8" fill="#000" opacity="0.12" filter="url(#b12)"/>
<rect x="470.6" y="229.8" width="11.5" height="2.2" rx="1.1" fill="#000" opacity="0.2" filter="url(#b08)"/>
<rect x="470.6" y="234.8" width="11.5" height="2.2" rx="1.1" fill="#000" opacity="0.22" filter="url(#b08)"/>
<rect x="470.6" y="240.0" width="11.5" height="2.4" rx="1.2" fill="#000" opacity="0.2" filter="url(#b08)"/>
<rect x="486.3" y="233.3" width="14.6" height="5.2" rx="2.6" fill="#000" opacity="1" filter="url(#b08)"/>
<rect x="487.1" y="234.2" width="13.0" height="3.4" rx="1.7" fill="#000" opacity="0.95" filter="url(#b05)"/>
<rect x="488.1" y="239.5" width="11.0" height="4.0" rx="2.0" fill="#000" opacity="0.12" filter="url(#b12)"/>
</g>
<rect x="366.00" y="40.10" width="136.20" height="104.70" fill="none" stroke="#6a6a6a" stroke-width="0.9"/>
<rect x="366.00" y="148.40" width="136.20" height="104.90" fill="none" stroke="#6a6a6a" stroke-width="0.9"/>
<text class="ls" x="360.9" y="48.400000000000006" font-size="9.1" text-anchor="end" fill="#111">180</text>
<line x1="363.4" y1="47.7" x2="366" y2="47.7" stroke="#111" stroke-width="1.0"/>
<text class="ls" x="360.9" y="58.400000000000006" font-size="9.1" text-anchor="end" fill="#111">130</text>
<line x1="363.4" y1="53.3" x2="366" y2="53.3" stroke="#111" stroke-width="1.0"/>
<text class="ls" x="360.9" y="74.7" font-size="9.1" text-anchor="end" fill="#111">100</text>
<line x1="363.4" y1="71.5" x2="366" y2="71.5" stroke="#111" stroke-width="1.0"/>
<text class="ls" x="360.9" y="89.7" font-size="9.1" text-anchor="end" fill="#111">70</text>
<line x1="363.4" y1="86.5" x2="366" y2="86.5" stroke="#111" stroke-width="1.0"/>
<text class="ls" x="360.9" y="115.0" font-size="9.1" text-anchor="end" fill="#111">55</text>
<line x1="363.4" y1="111.8" x2="366" y2="111.8" stroke="#111" stroke-width="1.0"/>
<text class="ls" x="360.9" y="128.1" font-size="9.1" text-anchor="end" fill="#111">40</text>
<text class="ls" x="360.9" y="156.29999999999998" font-size="9.1" text-anchor="end" fill="#111">180</text>
<line x1="363.4" y1="156.4" x2="366" y2="156.4" stroke="#111" stroke-width="1.0"/>
<text class="ls" x="360.9" y="167.2" font-size="9.1" text-anchor="end" fill="#111">130</text>
<line x1="363.4" y1="162.4" x2="366" y2="162.4" stroke="#111" stroke-width="1.0"/>
<text class="ls" x="360.9" y="183.6" font-size="9.1" text-anchor="end" fill="#111">100</text>
<line x1="363.4" y1="180.4" x2="366" y2="180.4" stroke="#111" stroke-width="1.0"/>
<text class="ls" x="360.9" y="198.2" font-size="9.1" text-anchor="end" fill="#111">70</text>
<line x1="363.4" y1="195" x2="366" y2="195" stroke="#111" stroke-width="1.0"/>
<text class="ls" x="360.9" y="224.2" font-size="9.1" text-anchor="end" fill="#111">55</text>
<line x1="363.4" y1="221" x2="366" y2="221" stroke="#111" stroke-width="1.0"/>
<text class="ls" x="360.9" y="236.7" font-size="9.1" text-anchor="end" fill="#111">40</text>
<text class="ls" x="516.1" y="92.7" font-size="10.6" text-anchor="middle" transform="rotate(-90 516.1 92.7)" fill="#111">Non-Reduced</text>
<text class="ls" x="516.1" y="199.5" font-size="10.6" text-anchor="middle" transform="rotate(-90 516.1 199.5)" fill="#111">Reduced</text>
<text class="ls" x="436.4" y="267.3" font-size="9.4" text-anchor="middle" fill="#111">IB: anti-GFP</text>
</g>
</svg>
</body></html>
